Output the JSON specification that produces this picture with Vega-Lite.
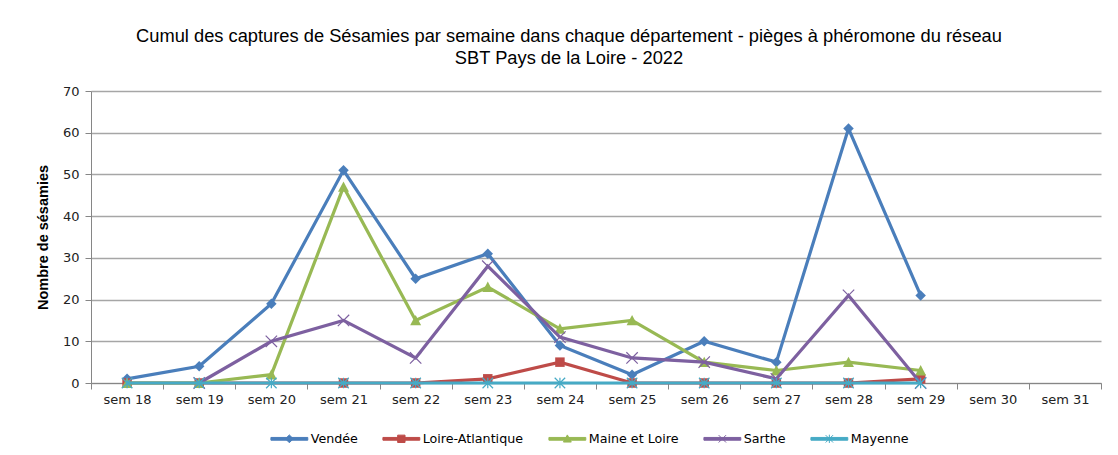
{
  "$schema": "https://vega.github.io/schema/vega-lite/v6.json",
  "width": 1010,
  "height": 292,
  "autosize": {"type": "none"},
  "padding": {"left": 91, "top": 91, "right": 17, "bottom": 72},
  "background": "white",
  "title": {
    "text": ["Cumul des captures de Sésamies par semaine dans chaque département - pièges à phéromone du réseau", "SBT Pays de la Loire - 2022"],
    "font": "Liberation Sans",
    "fontSize": 18.3,
    "fontWeight": "normal",
    "color": "#000000",
    "lineHeight": 22,
    "anchor": "middle",
    "dx": -27,
    "offset": 17
  },
  "config": {
    "view": {"stroke": null},
    "axis": {"labelFont": "DejaVu Sans", "labelFontSize": 13, "labelColor": "#222222", "domainColor": "#868686", "tickColor": "#868686", "gridColor": "#a6a6a6", "gridWidth": 1.3},
    "legend": {"labelFont": "DejaVu Sans", "labelFontSize": 12.7, "labelColor": "#000000", "layout": {"bottom": {"anchor": "middle"}}}
  },
  "data": {
    "values": [
      {"sem": "sem 18", "dept": "Vendée", "v": 1},
      {"sem": "sem 19", "dept": "Vendée", "v": 4},
      {"sem": "sem 20", "dept": "Vendée", "v": 19},
      {"sem": "sem 21", "dept": "Vendée", "v": 51},
      {"sem": "sem 22", "dept": "Vendée", "v": 25},
      {"sem": "sem 23", "dept": "Vendée", "v": 31},
      {"sem": "sem 24", "dept": "Vendée", "v": 9},
      {"sem": "sem 25", "dept": "Vendée", "v": 2},
      {"sem": "sem 26", "dept": "Vendée", "v": 10},
      {"sem": "sem 27", "dept": "Vendée", "v": 5},
      {"sem": "sem 28", "dept": "Vendée", "v": 61},
      {"sem": "sem 29", "dept": "Vendée", "v": 21},
      {"sem": "sem 18", "dept": "Loire-Atlantique", "v": 0},
      {"sem": "sem 19", "dept": "Loire-Atlantique", "v": 0},
      {"sem": "sem 21", "dept": "Loire-Atlantique", "v": 0},
      {"sem": "sem 22", "dept": "Loire-Atlantique", "v": 0},
      {"sem": "sem 23", "dept": "Loire-Atlantique", "v": 1},
      {"sem": "sem 24", "dept": "Loire-Atlantique", "v": 5},
      {"sem": "sem 25", "dept": "Loire-Atlantique", "v": 0},
      {"sem": "sem 26", "dept": "Loire-Atlantique", "v": 0},
      {"sem": "sem 27", "dept": "Loire-Atlantique", "v": 0},
      {"sem": "sem 28", "dept": "Loire-Atlantique", "v": 0},
      {"sem": "sem 29", "dept": "Loire-Atlantique", "v": 1},
      {"sem": "sem 18", "dept": "Maine et Loire", "v": 0},
      {"sem": "sem 19", "dept": "Maine et Loire", "v": 0},
      {"sem": "sem 20", "dept": "Maine et Loire", "v": 2},
      {"sem": "sem 21", "dept": "Maine et Loire", "v": 47},
      {"sem": "sem 22", "dept": "Maine et Loire", "v": 15},
      {"sem": "sem 23", "dept": "Maine et Loire", "v": 23},
      {"sem": "sem 24", "dept": "Maine et Loire", "v": 13},
      {"sem": "sem 25", "dept": "Maine et Loire", "v": 15},
      {"sem": "sem 26", "dept": "Maine et Loire", "v": 5},
      {"sem": "sem 27", "dept": "Maine et Loire", "v": 3},
      {"sem": "sem 28", "dept": "Maine et Loire", "v": 5},
      {"sem": "sem 29", "dept": "Maine et Loire", "v": 3},
      {"sem": "sem 19", "dept": "Sarthe", "v": 0},
      {"sem": "sem 20", "dept": "Sarthe", "v": 10},
      {"sem": "sem 21", "dept": "Sarthe", "v": 15},
      {"sem": "sem 22", "dept": "Sarthe", "v": 6},
      {"sem": "sem 23", "dept": "Sarthe", "v": 28},
      {"sem": "sem 24", "dept": "Sarthe", "v": 11},
      {"sem": "sem 25", "dept": "Sarthe", "v": 6},
      {"sem": "sem 26", "dept": "Sarthe", "v": 5},
      {"sem": "sem 27", "dept": "Sarthe", "v": 1},
      {"sem": "sem 28", "dept": "Sarthe", "v": 21},
      {"sem": "sem 29", "dept": "Sarthe", "v": 0},
      {"sem": "sem 18", "dept": "Mayenne", "v": 0},
      {"sem": "sem 19", "dept": "Mayenne", "v": 0},
      {"sem": "sem 20", "dept": "Mayenne", "v": 0},
      {"sem": "sem 21", "dept": "Mayenne", "v": 0},
      {"sem": "sem 22", "dept": "Mayenne", "v": 0},
      {"sem": "sem 23", "dept": "Mayenne", "v": 0},
      {"sem": "sem 24", "dept": "Mayenne", "v": 0},
      {"sem": "sem 25", "dept": "Mayenne", "v": 0},
      {"sem": "sem 26", "dept": "Mayenne", "v": 0},
      {"sem": "sem 27", "dept": "Mayenne", "v": 0},
      {"sem": "sem 28", "dept": "Mayenne", "v": 0},
      {"sem": "sem 29", "dept": "Mayenne", "v": 0}
    ]
  },
  "encoding": {
    "x": {
      "field": "sem", "type": "nominal",
      "scale": {"type": "band", "paddingInner": 0, "paddingOuter": 0, "domain": ["sem 18", "sem 19", "sem 20", "sem 21", "sem 22", "sem 23", "sem 24", "sem 25", "sem 26", "sem 27", "sem 28", "sem 29", "sem 30", "sem 31"]},
      "axis": {"title": null, "labelAngle": 0, "tickBand": "extent", "tickSize": 6, "labelPadding": 4, "grid": false}
    },
    "y": {
      "field": "v", "type": "quantitative",
      "scale": {"domain": [0, 70]},
      "axis": {"title": "Nombre de sésamies", "titleFont": "Liberation Sans", "titleFontSize": 14.5, "titleFontWeight": "bold", "titleColor": "#000000", "titlePadding": 12, "values": [0, 10, 20, 30, 40, 50, 60, 70], "tickSize": 6, "labelPadding": 6, "grid": true}
    }
  },
  "layer": [
    {"transform": [{"filter": "datum.dept === 'Vendée'"}], "mark": {"type": "line", "color": "#4a7ebb", "strokeWidth": 3.2}},
    {"transform": [{"filter": "datum.dept === 'Vendée'"}], "mark": {"type": "point", "shape": "M0,-1L1,0L0,1L-1,0Z", "filled": true, "opacity": 1, "color": "#4a7ebb", "size": 110}},
    {"transform": [{"filter": "datum.dept === 'Loire-Atlantique'"}], "mark": {"type": "line", "color": "#be4b48", "strokeWidth": 3.2}},
    {"transform": [{"filter": "datum.dept === 'Loire-Atlantique'"}], "mark": {"type": "point", "shape": "M-1,-1L1,-1L1,1L-1,1Z", "filled": true, "opacity": 1, "color": "#be4b48", "size": 90}},
    {"transform": [{"filter": "datum.dept === 'Maine et Loire'"}], "mark": {"type": "line", "color": "#98b954", "strokeWidth": 3.2}},
    {"transform": [{"filter": "datum.dept === 'Maine et Loire'"}], "mark": {"type": "point", "shape": "M0,-1L1,0.9L-1,0.9Z", "filled": true, "opacity": 1, "color": "#98b954", "size": 120}},
    {"transform": [{"filter": "datum.dept === 'Sarthe'"}], "mark": {"type": "line", "color": "#7d60a0", "strokeWidth": 3.2}},
    {"transform": [{"filter": "datum.dept === 'Sarthe'"}], "mark": {"type": "point", "shape": "M-1,-1L1,1M-1,1L1,-1", "filled": false, "opacity": 1, "color": "#7d60a0", "strokeWidth": 1.2, "size": 130}},
    {"transform": [{"filter": "datum.dept === 'Mayenne'"}], "mark": {"type": "line", "color": "#46aac5", "strokeWidth": 3.2}},
    {"transform": [{"filter": "datum.dept === 'Mayenne'"}], "mark": {"type": "point", "shape": "M-1,-1L1,1M-1,1L1,-1M0,-1L0,1", "filled": false, "opacity": 1, "color": "#46aac5", "strokeWidth": 1.2, "size": 110}},
    {
      "transform": [{"filter": "false"}],
      "mark": {"type": "point", "filled": true, "opacity": 1, "strokeWidth": 1},
      "encoding": {
        "color": {
          "field": "dept", "type": "nominal",
          "scale": {"domain": ["Vendée", "Loire-Atlantique", "Maine et Loire", "Sarthe", "Mayenne"], "range": ["#4a7ebb", "#be4b48", "#98b954", "#7d60a0", "#46aac5"]},
          "legend": {
            "orient": "bottom", "direction": "horizontal", "title": null,
            "symbolSize": 85, "labelOffset": 15, "columnPadding": 22, "offset": 26,
            "symbolStrokeWidth": 1, "symbolOpacity": 1
          }
        },
        "stroke": {
          "field": "dept", "type": "nominal",
          "scale": {"domain": ["Vendée", "Loire-Atlantique", "Maine et Loire", "Sarthe", "Mayenne"], "range": ["#4a7ebb", "#be4b48", "#98b954", "#7d60a0", "#46aac5"]}
        },
        "shape": {
          "field": "dept", "type": "nominal",
          "scale": {"domain": ["Vendée", "Loire-Atlantique", "Maine et Loire", "Sarthe", "Mayenne"], "range": [
            "M-4,-0.3L4,-0.3L4,0.3L-4,0.3ZM0,-0.85L0.85,0L0,0.85L-0.85,0Z",
            "M-4,-0.3L4,-0.3L4,0.3L-4,0.3ZM-0.8,-0.8L0.8,-0.8L0.8,0.8L-0.8,0.8Z",
            "M-4,-0.3L4,-0.3L4,0.3L-4,0.3ZM0,-0.85L0.85,0.7L-0.85,0.7Z",
            "M-4,-0.3L4,-0.3L4,0.3L-4,0.3ZM-0.8,-0.8L0.8,0.8M-0.8,0.8L0.8,-0.8",
            "M-4,-0.3L4,-0.3L4,0.3L-4,0.3ZM-0.8,-0.8L0.8,0.8M-0.8,0.8L0.8,-0.8M0,-0.9L0,0.9"
          ]}
        }
      }
    }
  ]
}
